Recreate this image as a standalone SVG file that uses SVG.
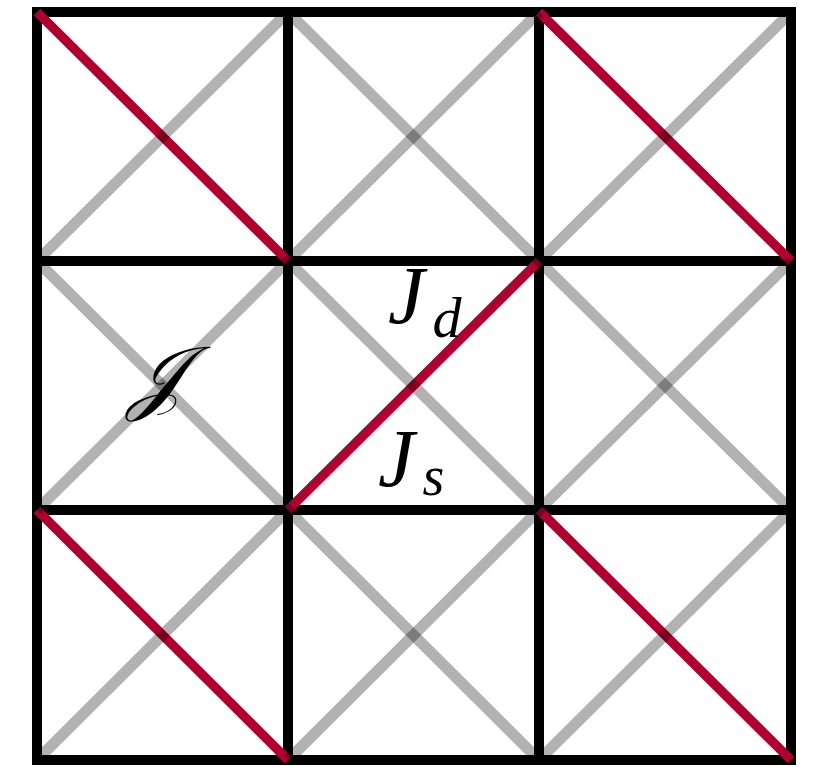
<svg xmlns="http://www.w3.org/2000/svg" width="826" height="767" viewBox="0 0 826 767">
<style>
.grid{stroke:#000;stroke-width:10;fill:none;stroke-linecap:square}
.red{stroke:#b0002f;stroke-width:9.5;stroke-linecap:butt}
.gray{stroke:#000;stroke-opacity:0.3;stroke-width:11;stroke-linecap:butt}
.m{font-family:"Liberation Serif","DejaVu Serif",serif;font-style:italic;fill:#000}
</style>
<rect width="826" height="767" fill="#fff"/>
<g id="connectors">
<g id="grid">
<line class="grid" x1="37" y1="12" x2="791" y2="12"/>
<line class="grid" x1="37" y1="261" x2="791" y2="261"/>
<line class="grid" x1="37" y1="510" x2="791" y2="510"/>
<line class="grid" x1="37" y1="760" x2="791" y2="760"/>
<line class="grid" x1="37" y1="12" x2="37" y2="760"/>
<line class="grid" x1="288" y1="12" x2="288" y2="760"/>
<line class="grid" x1="539" y1="12" x2="539" y2="760"/>
<line class="grid" x1="791" y1="12" x2="791" y2="760"/>
</g>
<g id="red">
<line class="red" x1="37" y1="12" x2="288" y2="261"/>
<line class="red" x1="539" y1="12" x2="791" y2="261"/>
<line class="red" x1="288" y1="510" x2="539" y2="261"/>
<line class="red" x1="37" y1="510" x2="288" y2="760"/>
<line class="red" x1="539" y1="510" x2="791" y2="760"/>
</g>
<g id="gray">
<line class="gray" x1="37" y1="261" x2="288" y2="12"/>
<line class="gray" x1="288" y1="12" x2="539" y2="261"/>
<line class="gray" x1="288" y1="261" x2="539" y2="12"/>
<line class="gray" x1="539" y1="261" x2="791" y2="12"/>
<line class="gray" x1="37" y1="261" x2="288" y2="510"/>
<line class="gray" x1="37" y1="510" x2="288" y2="261"/>
<line class="gray" x1="288" y1="261" x2="539" y2="510"/>
<line class="gray" x1="539" y1="261" x2="791" y2="510"/>
<line class="gray" x1="539" y1="510" x2="791" y2="261"/>
<line class="gray" x1="37" y1="760" x2="288" y2="510"/>
<line class="gray" x1="288" y1="510" x2="539" y2="760"/>
<line class="gray" x1="288" y1="760" x2="539" y2="510"/>
<line class="gray" x1="539" y1="760" x2="791" y2="510"/>
</g>
</g>
<g id="label-Jd"><text class="m" x="388" y="323" font-size="82">J<tspan font-size="58" dx="8" dy="14">d</tspan></text></g>
<g id="label-Js"><text class="m" x="378" y="486" font-size="82">J<tspan font-size="56" dx="8" dy="9">s</tspan></text></g>
<g id="label-script-J"><text class="m" x="128" y="404" font-size="82" font-style="normal">𝒥</text></g>
</svg>
